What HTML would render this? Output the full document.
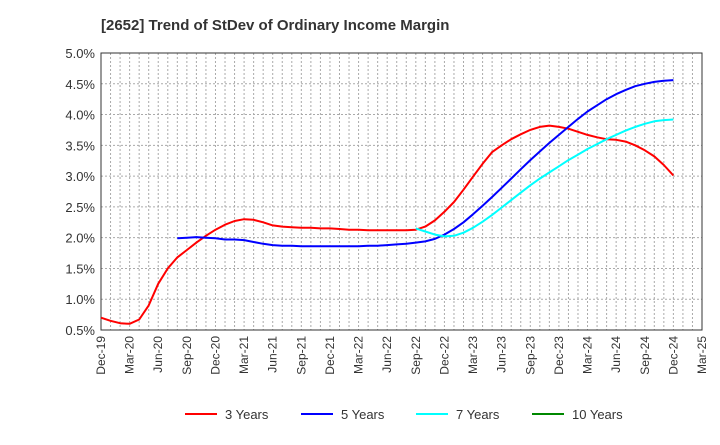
<!DOCTYPE html>
<html><head><meta charset="utf-8"><style>
body{margin:0;background:#fff;font-family:"Liberation Sans",sans-serif}
svg text{font-family:"Liberation Sans",sans-serif}
</style></head><body>
<svg id="c" width="720" height="440" xmlns="http://www.w3.org/2000/svg">
<text x="101" y="30" font-size="15" font-weight="bold" fill="#333">[2652]  Trend of StDev of Ordinary Income Margin</text>
</svg>
<script>
const xLabels=["Dec-19","Mar-20","Jun-20","Sep-20","Dec-20","Mar-21","Jun-21","Sep-21","Dec-21","Mar-22","Jun-22","Sep-22","Dec-22","Mar-23","Jun-23","Sep-23","Dec-23","Mar-24","Jun-24","Sep-24","Dec-24","Mar-25"];
const yTicks=[0.5,1.0,1.5,2.0,2.5,3.0,3.5,4.0,4.5,5.0];
const red3=[0.70,0.65,0.61,0.60,0.67,0.90,1.25,1.50,1.68,1.80,1.92,2.03,2.13,2.21,2.27,2.30,2.29,2.25,2.20,2.18,2.17,2.16,2.16,2.15,2.15,2.14,2.13,2.13,2.12,2.12,2.12,2.12,2.12,2.13,2.18,2.28,2.42,2.58,2.78,2.99,3.20,3.39,3.50,3.60,3.68,3.75,3.80,3.82,3.80,3.77,3.72,3.67,3.63,3.60,3.59,3.56,3.50,3.42,3.32,3.18,3.01];
const blue5Start=8;
const blue5=[1.99,2.00,2.01,2.00,1.99,1.97,1.97,1.96,1.93,1.90,1.88,1.87,1.87,1.86,1.86,1.86,1.86,1.86,1.86,1.86,1.87,1.87,1.88,1.89,1.90,1.92,1.94,1.98,2.05,2.14,2.25,2.38,2.52,2.66,2.81,2.96,3.11,3.26,3.40,3.54,3.67,3.80,3.93,4.05,4.15,4.25,4.33,4.40,4.46,4.50,4.53,4.55,4.56];
const cyan7Start=33;
const cyan7=[2.15,2.10,2.05,2.02,2.03,2.08,2.16,2.26,2.37,2.49,2.61,2.73,2.85,2.96,3.06,3.16,3.26,3.35,3.44,3.52,3.60,3.67,3.74,3.80,3.85,3.89,3.91,3.92];
const green10=[];
const svg=document.getElementById('c');const NS="http://www.w3.org/2000/svg";
const L=101,R=702,T=53,B=330,NM=63;
const xs=m=>L+(R-L)*m/NM;
const ys=v=>B-(B-T)*(v-0.5)/4.5;
function mk(t,a){const e=document.createElementNS(NS,t);for(const k in a)e.setAttribute(k,a[k]);svg.appendChild(e);return e;}
for(let m=1;m<NM;m++){const g=mk('line',{x1:xs(m),x2:xs(m),y1:T,y2:B,stroke:'#aaa','stroke-dasharray':'2,2','stroke-width':1});

}
yTicks.forEach(v=>{const g=mk('line',{x1:L,x2:R,y1:ys(v),y2:ys(v),stroke:'#aaa','stroke-dasharray':'2,2'});


const t=mk('text',{x:L-6,y:ys(v)+5,'text-anchor':'end','font-size':13,fill:'#333'});t.textContent=v.toFixed(1)+'%';

});
xLabels.forEach((s,i)=>{const x=xs(i*3),y=B+6;const t=mk('text',{x:x+4,y:y,'text-anchor':'end','font-size':12,fill:'#333',transform:`rotate(-90 ${x+4} ${y})`});t.textContent=s;

});
const fr=mk('rect',{x:L,y:T,width:R-L,height:B-T,fill:'none',stroke:'#333','stroke-width':1});


function line(arr,start,col,name){if(!arr.length)return;const p=arr.map((v,i)=>xs(start+i).toFixed(1)+','+ys(v).toFixed(1)).join(' ');
const e=mk('polyline',{points:p,fill:'none',stroke:col,'stroke-width':2,'stroke-linejoin':'round'});

}
line(red3,0,'#f00','series-3-years');
line(blue5,blue5Start,'#00f','series-5-years');
line(cyan7,cyan7Start,'#0ff','series-7-years');
line(green10,0,'#080','series-10-years');
const leg=[['3 Years','#f00',185],['5 Years','#00f',301],['7 Years','#0ff',416],['10 Years','#080',532]];
leg.forEach(([n,c,x])=>{const l=mk('line',{x1:x,x2:x+32,y1:414,y2:414,stroke:c,'stroke-width':2});


const t=mk('text',{x:x+40,y:419,'font-size':13,fill:'#333'});t.textContent=n;

});
</script>
</body></html>
